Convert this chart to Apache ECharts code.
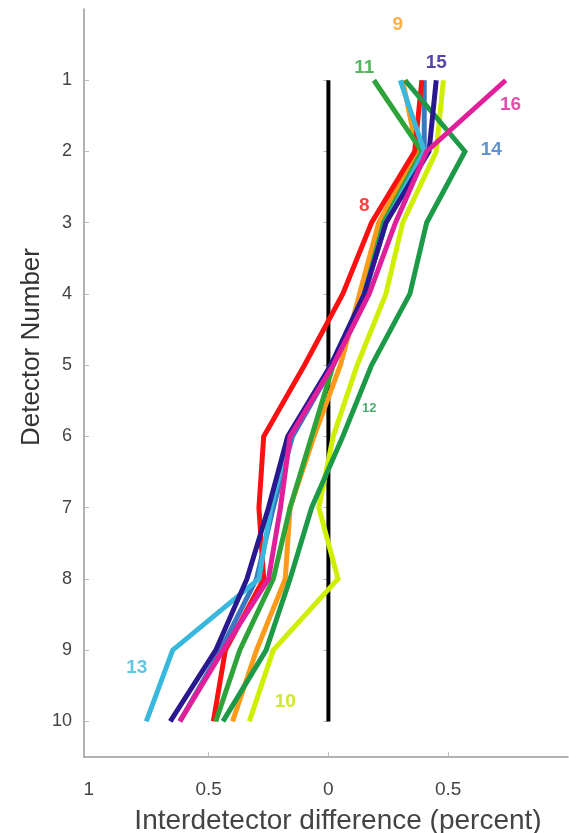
<!DOCTYPE html>
<html>
<head>
<meta charset="utf-8">
<style>
html,body{margin:0;padding:0;background:#fff;}
#chart{width:569px;height:833px;}
</style>
<script src="https://cdn.jsdelivr.net/npm/echarts@6/dist/echarts.min.js"></script>
</head>
<body>
<div id="chart"></div>
<script>
// Detector numbers (y axis)
const detectors = [1, 2, 3, 4, 5, 6, 7, 8, 9, 10];

// Interdetector difference (percent) per band, detectors 1..10
const band8  = [0.39, 0.36, 0.18, 0.06, -0.10, -0.27, -0.29, -0.27, -0.43, -0.48];
const band9  = [0.31, 0.37, 0.21, 0.13, 0.05, -0.06, -0.16, -0.18, -0.30, -0.40];
const band10 = [0.48, 0.45, 0.31, 0.24, 0.12, 0.02, -0.04, 0.04, -0.23, -0.33];
const band11 = [0.19, 0.39, 0.23, 0.15, 0.02, -0.07, -0.16, -0.23, -0.37, -0.47];
const band12 = [0.32, 0.57, 0.41, 0.34, 0.18, 0.06, -0.07, -0.16, -0.26, -0.44];
const band13 = [0.30, 0.40, 0.24, 0.15, 0.01, -0.16, -0.24, -0.29, -0.65, -0.76];
const band14 = [0.40, 0.40, 0.24, 0.15, 0.02, -0.15, -0.23, -0.30, -0.45, -0.62];
const band15 = [0.45, 0.42, 0.24, 0.15, 0.01, -0.17, -0.25, -0.34, -0.47, -0.66];
const band16 = [0.74, 0.41, 0.28, 0.17, 0.02, -0.16, -0.20, -0.25, -0.44, -0.62];

// Band labels: [x, y, text]
const bandLabels = [
  [0.29, 0.22, '9'],
  [0.15, 0.82, '11'],
  [0.45, 0.75, '15'],
  [0.76, 1.34, '16'],
  [0.68, 1.98, '14'],
  [0.15, 2.76, '8'],
  [0.17, 5.61, '12'],
  [-0.80, 9.25, '13'],
  [-0.18, 9.72, '10']
];

// Tick values
const xLabelTicks = [-1, -0.5, 0, 0.5];
const xTicks = [-0.5, 0, 0.5];

const FONT = 'Liberation Sans, Arial, Helvetica, sans-serif';

const colors = {
  '8': '#ff1010', '9': '#ff9a1a', '10': '#cfee00', '11': '#2ea33a',
  '12': '#1c9a48', '13': '#38b8dc', '14': '#3b78c4', '15': '#2a1890', '16': '#e0209a'
};
const labelColors = Object.assign({}, colors, {'10': '#c4e000', '12': '#1c9a48'});

function mk(name, arr) {
  return {
    name: 'Band ' + name,
    type: 'line',
    data: arr.map((v, i) => [v, detectors[i]]),
    showSymbol: false,
    symbol: 'none',
    lineStyle: { color: colors[name], width: 5, join: 'miter', cap: 'butt' },
    itemStyle: { color: colors[name] },
    silent: true,
    animation: false
  };
}

const series = [
  {
    name: 'zero', type: 'line',
    data: [[0, detectors[0]], [0, detectors[detectors.length - 1]]],
    symbol: 'none',
    lineStyle: { color: '#000', width: 4 },
    animation: false, silent: true
  },
  mk('14', band14),
  mk('9', band9),
  mk('8', band8),
  mk('10', band10),
  mk('12', band12),
  mk('11', band11),
  mk('13', band13),
  mk('15', band15),
  mk('16', band16),
  {
    name: 'labels', type: 'scatter',
    data: bandLabels.map(d => ({
      value: [d[0], d[1]],
      label: {
        show: true, formatter: d[2], position: 'inside',
        color: labelColors[d[2]],
        fontSize: d[2] === '12' ? 13 : 19,
        fontWeight: 'bold',
        fontFamily: FONT
      }
    })),
    symbolSize: 0,
    animation: false, silent: true
  }
];

const chart = echarts.init(document.getElementById('chart'));
chart.setOption({
  backgroundColor: '#fff',
  animation: false,
  grid: { left: 84, right: 1, top: 9, bottom: 76, containLabel: false, outerBoundsMode: 'none' },
  xAxis: {
    type: 'value', min: -1.02, max: 1,
    name: 'Interdetector difference (percent)',
    nameLocation: 'middle', nameGap: 50,
    nameTextStyle: { fontSize: 28, color: '#444', fontFamily: FONT, padding: [0, 0, 0, 24] },
    axisLine: { show: true, onZero: false, lineStyle: { color: '#999', width: 1.5 } },
    axisTick: { show: true, inside: true, length: 5, customValues: xTicks, lineStyle: { color: '#bbb' } },
    axisLabel: {
      customValues: xLabelTicks,
      formatter: v => String(Math.abs(v)),
      fontSize: 19, color: '#444', margin: 23,
      fontFamily: FONT
    },
    splitLine: { show: false }
  },
  yAxis: [
    {
      type: 'value', inverse: true, min: 0, max: 10.5, interval: 1,
      name: 'Detector Number',
      nameLocation: 'middle', nameGap: 39, nameRotate: 90,
      nameMoveOverlap: false,
      nameTextStyle: { fontSize: 26, color: '#333', fontFamily: FONT, padding: [0, 0, 0, 72] },
      axisLine: { show: true, onZero: false, lineStyle: { color: '#999', width: 1.5 } },
      axisTick: { show: true, inside: true, length: 5, customValues: detectors, lineStyle: { color: '#bbb' } },
      axisLabel: {
        customValues: detectors,
        fontSize: 18, color: '#444', margin: 12,
        fontFamily: FONT
      },
      splitLine: { show: false }
    },
    {
      type: 'value', inverse: true, min: 0, max: 10.5, interval: 1, position: 'right',
      axisLine: { show: false },
      axisTick: { show: true, inside: true, length: 5, customValues: detectors, lineStyle: { color: '#bbb' } },
      axisLabel: { show: false },
      splitLine: { show: false }
    }
  ],
  series: series
});
</script>
</body>
</html>
